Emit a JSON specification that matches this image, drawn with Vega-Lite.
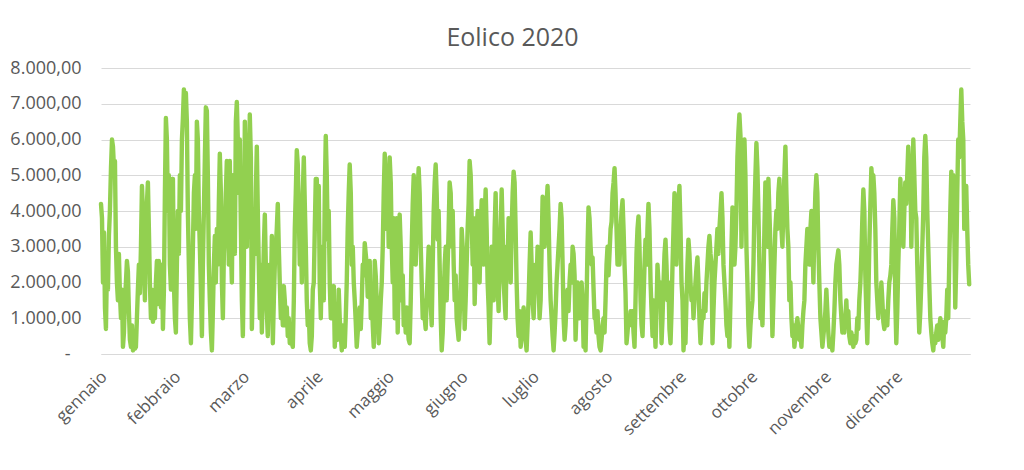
{
  "$schema": "https://vega.github.io/schema/vega-lite/v6.json",
  "autosize": "none",
  "width": 869,
  "height": 286,
  "padding": {"left": 101, "top": 68, "right": 54, "bottom": 116},
  "background": "white",
  "title": {
    "text": "Eolico 2020",
    "font": "Open Sans",
    "fontSize": 25,
    "fontWeight": "normal",
    "color": "#595959",
    "anchor": "middle",
    "baseline": "alphabetic",
    "dx": -23,
    "dy": 24,
    "offset": 12
  },
  "data": {
    "values": [
{"h":0,"v":4200},{"h":10,"v":3800},{"h":20,"v":2000},{"h":30,"v":3400},{"h":40,"v":1300},{"h":50,"v":700},{"h":60,"v":2500},{"h":70,"v":1800},{"h":80,"v":3300},{"h":90,"v":4000},
{"h":101,"v":5200},{"h":111,"v":6000},{"h":121,"v":5800},{"h":131,"v":5200},{"h":141,"v":5400},{"h":151,"v":3000},{"h":161,"v":2000},{"h":171,"v":1500},{"h":181,"v":2800},{"h":191,"v":1700},
{"h":202,"v":1000},{"h":212,"v":1800},{"h":222,"v":200},{"h":232,"v":600},{"h":242,"v":1500},{"h":252,"v":2000},{"h":262,"v":2600},{"h":272,"v":2300},{"h":282,"v":1200},{"h":292,"v":400},
{"h":303,"v":200},{"h":313,"v":800},{"h":323,"v":100},{"h":333,"v":300},{"h":343,"v":150},{"h":353,"v":200},{"h":363,"v":1000},{"h":373,"v":1800},{"h":383,"v":2500},{"h":393,"v":1700},
{"h":404,"v":3000},{"h":414,"v":4700},{"h":424,"v":4000},{"h":434,"v":2500},{"h":444,"v":1500},{"h":454,"v":3500},{"h":464,"v":4200},{"h":474,"v":4800},{"h":484,"v":3500},{"h":494,"v":2000},
{"h":505,"v":1000},{"h":515,"v":1800},{"h":525,"v":900},{"h":535,"v":1500},{"h":545,"v":1000},{"h":555,"v":2000},{"h":565,"v":2600},{"h":575,"v":1400},{"h":585,"v":2600},{"h":595,"v":2000},
{"h":606,"v":1300},{"h":616,"v":2500},{"h":626,"v":700},{"h":636,"v":1800},{"h":646,"v":4500},{"h":656,"v":6600},{"h":666,"v":6000},{"h":676,"v":4000},{"h":686,"v":5000},{"h":696,"v":2500},
{"h":707,"v":1800},{"h":717,"v":3500},{"h":727,"v":4900},{"h":737,"v":2000},{"h":747,"v":1000},{"h":757,"v":600},{"h":767,"v":2500},{"h":777,"v":4000},{"h":787,"v":2800},{"h":797,"v":5000},
{"h":808,"v":4000},{"h":818,"v":6000},{"h":828,"v":6600},{"h":838,"v":7400},{"h":848,"v":7000},{"h":858,"v":7300},{"h":868,"v":6500},{"h":878,"v":4000},{"h":888,"v":2500},{"h":898,"v":1000},
{"h":909,"v":300},{"h":919,"v":1500},{"h":929,"v":3000},{"h":939,"v":4500},{"h":949,"v":5000},{"h":959,"v":3500},{"h":969,"v":6500},{"h":979,"v":6000},{"h":989,"v":4000},{"h":999,"v":3000},
{"h":1010,"v":1800},{"h":1020,"v":500},{"h":1030,"v":2500},{"h":1040,"v":4000},{"h":1050,"v":5500},{"h":1060,"v":6900},{"h":1070,"v":6800},{"h":1080,"v":5000},{"h":1090,"v":2500},{"h":1100,"v":1500},
{"h":1111,"v":600},{"h":1121,"v":100},{"h":1131,"v":1200},{"h":1141,"v":2500},{"h":1151,"v":3300},{"h":1161,"v":2000},{"h":1171,"v":3500},{"h":1181,"v":2500},{"h":1191,"v":4200},{"h":1201,"v":5600},
{"h":1212,"v":4500},{"h":1222,"v":2000},{"h":1232,"v":1000},{"h":1242,"v":2800},{"h":1252,"v":3500},{"h":1262,"v":4500},{"h":1272,"v":5400},{"h":1282,"v":4000},{"h":1292,"v":2500},{"h":1302,"v":5400},
{"h":1313,"v":3000},{"h":1323,"v":2000},{"h":1333,"v":5000},{"h":1343,"v":3500},{"h":1353,"v":2800},{"h":1363,"v":6500},{"h":1373,"v":7050},{"h":1383,"v":6000},{"h":1393,"v":4500},{"h":1403,"v":6000},
{"h":1414,"v":3500},{"h":1424,"v":1500},{"h":1434,"v":500},{"h":1444,"v":2500},{"h":1454,"v":6500},{"h":1464,"v":5500},{"h":1474,"v":3000},{"h":1484,"v":5000},{"h":1494,"v":4000},{"h":1504,"v":6700},
{"h":1515,"v":5500},{"h":1525,"v":700},{"h":1535,"v":2000},{"h":1545,"v":3500},{"h":1555,"v":2800},{"h":1565,"v":4500},{"h":1575,"v":5800},{"h":1585,"v":4000},{"h":1595,"v":2500},{"h":1605,"v":1000},
{"h":1616,"v":2500},{"h":1626,"v":600},{"h":1636,"v":1800},{"h":1646,"v":3000},{"h":1656,"v":3900},{"h":1666,"v":2500},{"h":1676,"v":1200},{"h":1686,"v":500},{"h":1696,"v":1500},{"h":1706,"v":2500},
{"h":1717,"v":1700},{"h":1727,"v":3300},{"h":1737,"v":300},{"h":1747,"v":1500},{"h":1757,"v":2500},{"h":1767,"v":3000},{"h":1777,"v":3500},{"h":1787,"v":4200},{"h":1797,"v":3000},{"h":1807,"v":2000},
{"h":1818,"v":1000},{"h":1828,"v":1500},{"h":1838,"v":800},{"h":1848,"v":1900},{"h":1858,"v":1500},{"h":1868,"v":800},{"h":1878,"v":1300},{"h":1888,"v":500},{"h":1898,"v":1000},{"h":1908,"v":300},
{"h":1919,"v":600},{"h":1929,"v":300},{"h":1939,"v":200},{"h":1949,"v":1500},{"h":1959,"v":3500},{"h":1969,"v":4500},{"h":1979,"v":5700},{"h":1989,"v":5300},{"h":1999,"v":4000},{"h":2009,"v":2500},
{"h":2020,"v":3500},{"h":2030,"v":2000},{"h":2040,"v":4500},{"h":2050,"v":5500},{"h":2060,"v":4200},{"h":2070,"v":3000},{"h":2080,"v":1500},{"h":2090,"v":800},{"h":2100,"v":1200},{"h":2110,"v":300},
{"h":2121,"v":100},{"h":2131,"v":500},{"h":2141,"v":1800},{"h":2151,"v":2000},{"h":2161,"v":3500},{"h":2171,"v":4900},{"h":2181,"v":4900},{"h":2191,"v":3500},{"h":2201,"v":4700},{"h":2211,"v":2000},
{"h":2222,"v":1000},{"h":2232,"v":2500},{"h":2242,"v":3000},{"h":2252,"v":1500},{"h":2262,"v":4500},{"h":2272,"v":6100},{"h":2282,"v":5000},{"h":2292,"v":3200},{"h":2302,"v":4000},{"h":2312,"v":2000},
{"h":2323,"v":1000},{"h":2333,"v":1600},{"h":2343,"v":1000},{"h":2353,"v":1900},{"h":2363,"v":200},{"h":2373,"v":800},{"h":2383,"v":1200},{"h":2393,"v":400},{"h":2403,"v":1800},{"h":2413,"v":1000},
{"h":2424,"v":500},{"h":2434,"v":100},{"h":2444,"v":800},{"h":2454,"v":300},{"h":2464,"v":200},{"h":2474,"v":1000},{"h":2484,"v":2000},{"h":2494,"v":3500},{"h":2504,"v":4500},{"h":2514,"v":5300},
{"h":2525,"v":4500},{"h":2535,"v":2500},{"h":2545,"v":3000},{"h":2555,"v":2000},{"h":2565,"v":1500},{"h":2575,"v":900},{"h":2585,"v":200},{"h":2595,"v":600},{"h":2605,"v":1000},{"h":2615,"v":1300},
{"h":2626,"v":700},{"h":2636,"v":1500},{"h":2646,"v":2500},{"h":2656,"v":2200},{"h":2666,"v":3100},{"h":2676,"v":2800},{"h":2686,"v":2500},{"h":2696,"v":1600},{"h":2706,"v":2200},{"h":2716,"v":2600},
{"h":2727,"v":1000},{"h":2737,"v":1800},{"h":2747,"v":800},{"h":2757,"v":200},{"h":2767,"v":2600},{"h":2777,"v":2200},{"h":2787,"v":1500},{"h":2797,"v":1000},{"h":2807,"v":300},{"h":2817,"v":800},
{"h":2828,"v":1500},{"h":2838,"v":2000},{"h":2848,"v":3000},{"h":2858,"v":4500},{"h":2868,"v":5600},{"h":2878,"v":5000},{"h":2888,"v":3500},{"h":2898,"v":4800},{"h":2908,"v":3000},{"h":2918,"v":5500},
{"h":2929,"v":4800},{"h":2939,"v":3000},{"h":2949,"v":2000},{"h":2959,"v":3800},{"h":2969,"v":1000},{"h":2979,"v":2500},{"h":2989,"v":3800},{"h":2999,"v":600},{"h":3009,"v":2000},{"h":3019,"v":3900},
{"h":3030,"v":3000},{"h":3040,"v":1500},{"h":3050,"v":2200},{"h":3060,"v":800},{"h":3070,"v":1200},{"h":3080,"v":600},{"h":3090,"v":1300},{"h":3100,"v":800},{"h":3110,"v":400},{"h":3120,"v":300},
{"h":3131,"v":1500},{"h":3141,"v":3000},{"h":3151,"v":4200},{"h":3161,"v":5000},{"h":3171,"v":4000},{"h":3181,"v":2500},{"h":3191,"v":3500},{"h":3201,"v":4600},{"h":3211,"v":5200},{"h":3221,"v":4500},
{"h":3232,"v":3000},{"h":3242,"v":2000},{"h":3252,"v":1000},{"h":3262,"v":1500},{"h":3272,"v":1000},{"h":3282,"v":700},{"h":3292,"v":1500},{"h":3302,"v":2200},{"h":3312,"v":3000},{"h":3322,"v":2000},
{"h":3333,"v":1400},{"h":3343,"v":800},{"h":3353,"v":2500},{"h":3363,"v":4000},{"h":3373,"v":4800},{"h":3383,"v":5300},{"h":3393,"v":4500},{"h":3403,"v":3200},{"h":3413,"v":4000},{"h":3423,"v":2500},
{"h":3434,"v":1000},{"h":3444,"v":100},{"h":3454,"v":600},{"h":3464,"v":1500},{"h":3474,"v":2500},{"h":3484,"v":3000},{"h":3494,"v":1500},{"h":3504,"v":2500},{"h":3514,"v":3500},{"h":3524,"v":4800},
{"h":3535,"v":4500},{"h":3545,"v":3000},{"h":3555,"v":4000},{"h":3565,"v":2500},{"h":3575,"v":1500},{"h":3585,"v":2200},{"h":3595,"v":1000},{"h":3605,"v":700},{"h":3615,"v":400},{"h":3625,"v":1000},
{"h":3636,"v":2000},{"h":3646,"v":3500},{"h":3656,"v":3000},{"h":3666,"v":2000},{"h":3676,"v":700},{"h":3686,"v":1500},{"h":3696,"v":2500},{"h":3706,"v":3500},{"h":3716,"v":4200},{"h":3726,"v":5400},
{"h":3737,"v":5000},{"h":3747,"v":3800},{"h":3757,"v":2500},{"h":3767,"v":3800},{"h":3777,"v":1400},{"h":3787,"v":2500},{"h":3797,"v":3500},{"h":3807,"v":4000},{"h":3817,"v":3000},{"h":3827,"v":2000},
{"h":3838,"v":3500},{"h":3848,"v":4300},{"h":3858,"v":3500},{"h":3868,"v":2500},{"h":3878,"v":3800},{"h":3888,"v":4600},{"h":3898,"v":3500},{"h":3908,"v":2000},{"h":3918,"v":1300},{"h":3928,"v":300},
{"h":3939,"v":1500},{"h":3949,"v":3000},{"h":3959,"v":2500},{"h":3969,"v":1500},{"h":3979,"v":3500},{"h":3989,"v":4500},{"h":3999,"v":3000},{"h":4009,"v":2000},{"h":4019,"v":1200},{"h":4029,"v":2500},
{"h":4040,"v":3500},{"h":4050,"v":4600},{"h":4060,"v":3500},{"h":4070,"v":2000},{"h":4080,"v":1500},{"h":4090,"v":1000},{"h":4100,"v":3000},{"h":4110,"v":2500},{"h":4120,"v":3800},{"h":4130,"v":3000},
{"h":4141,"v":2000},{"h":4151,"v":3500},{"h":4161,"v":4500},{"h":4171,"v":5100},{"h":4181,"v":4800},{"h":4191,"v":3500},{"h":4201,"v":2000},{"h":4211,"v":1000},{"h":4221,"v":500},{"h":4231,"v":1200},
{"h":4242,"v":200},{"h":4252,"v":500},{"h":4262,"v":1000},{"h":4272,"v":1300},{"h":4282,"v":700},{"h":4292,"v":400},{"h":4302,"v":100},{"h":4312,"v":800},{"h":4322,"v":1500},{"h":4332,"v":2500},
{"h":4343,"v":3400},{"h":4353,"v":2500},{"h":4363,"v":1500},{"h":4373,"v":1000},{"h":4383,"v":1800},{"h":4393,"v":2500},{"h":4403,"v":2000},{"h":4413,"v":3000},{"h":4423,"v":2000},{"h":4433,"v":1000},
{"h":4444,"v":1500},{"h":4454,"v":3000},{"h":4464,"v":4400},{"h":4474,"v":4000},{"h":4484,"v":3000},{"h":4494,"v":3500},{"h":4504,"v":4200},{"h":4514,"v":4700},{"h":4524,"v":3800},{"h":4534,"v":2500},
{"h":4545,"v":1500},{"h":4555,"v":1000},{"h":4565,"v":500},{"h":4575,"v":100},{"h":4585,"v":600},{"h":4595,"v":1200},{"h":4605,"v":2000},{"h":4615,"v":2500},{"h":4625,"v":3000},{"h":4635,"v":3500},
{"h":4646,"v":4200},{"h":4656,"v":3800},{"h":4666,"v":2500},{"h":4676,"v":1000},{"h":4686,"v":400},{"h":4696,"v":800},{"h":4706,"v":1500},{"h":4716,"v":1800},{"h":4726,"v":1200},{"h":4736,"v":2000},
{"h":4747,"v":2500},{"h":4757,"v":2000},{"h":4767,"v":3000},{"h":4777,"v":2800},{"h":4787,"v":2200},{"h":4797,"v":400},{"h":4807,"v":1200},{"h":4817,"v":2000},{"h":4827,"v":1500},{"h":4837,"v":1000},
{"h":4848,"v":1800},{"h":4858,"v":2000},{"h":4868,"v":1500},{"h":4878,"v":200},{"h":4888,"v":500},{"h":4898,"v":100},{"h":4908,"v":1500},{"h":4918,"v":3000},{"h":4928,"v":4100},{"h":4938,"v":3800},
{"h":4949,"v":3000},{"h":4959,"v":2500},{"h":4969,"v":2700},{"h":4979,"v":1800},{"h":4989,"v":1000},{"h":4999,"v":1000},{"h":5009,"v":600},{"h":5019,"v":1200},{"h":5029,"v":500},{"h":5039,"v":200},
{"h":5050,"v":100},{"h":5060,"v":400},{"h":5070,"v":800},{"h":5080,"v":1000},{"h":5090,"v":600},{"h":5100,"v":1500},{"h":5110,"v":2500},{"h":5120,"v":3000},{"h":5130,"v":2200},{"h":5140,"v":2800},
{"h":5151,"v":3500},{"h":5161,"v":3700},{"h":5171,"v":4500},{"h":5181,"v":4800},{"h":5191,"v":5200},{"h":5201,"v":4500},{"h":5211,"v":3500},{"h":5221,"v":2500},{"h":5231,"v":3000},{"h":5241,"v":2500},
{"h":5252,"v":3500},{"h":5262,"v":4000},{"h":5272,"v":4300},{"h":5282,"v":3500},{"h":5292,"v":2500},{"h":5302,"v":1700},{"h":5312,"v":300},{"h":5322,"v":600},{"h":5332,"v":1000},{"h":5342,"v":800},
{"h":5353,"v":1200},{"h":5363,"v":1000},{"h":5373,"v":1200},{"h":5383,"v":600},{"h":5393,"v":200},{"h":5403,"v":1500},{"h":5413,"v":2800},{"h":5423,"v":3500},{"h":5433,"v":3850},{"h":5443,"v":3000},
{"h":5454,"v":1500},{"h":5464,"v":800},{"h":5474,"v":500},{"h":5484,"v":1500},{"h":5494,"v":2500},{"h":5504,"v":3200},{"h":5514,"v":2500},{"h":5524,"v":3500},{"h":5534,"v":4200},{"h":5544,"v":3500},
{"h":5555,"v":2000},{"h":5565,"v":1200},{"h":5575,"v":500},{"h":5585,"v":1500},{"h":5595,"v":1000},{"h":5605,"v":200},{"h":5615,"v":1200},{"h":5625,"v":2500},{"h":5635,"v":2000},{"h":5645,"v":1500},
{"h":5656,"v":2000},{"h":5666,"v":300},{"h":5676,"v":1000},{"h":5686,"v":2000},{"h":5696,"v":2800},{"h":5706,"v":3200},{"h":5716,"v":2500},{"h":5726,"v":1500},{"h":5736,"v":2000},{"h":5746,"v":700},
{"h":5757,"v":300},{"h":5767,"v":1200},{"h":5777,"v":2500},{"h":5787,"v":3500},{"h":5797,"v":4500},{"h":5807,"v":3800},{"h":5817,"v":2500},{"h":5827,"v":3500},{"h":5837,"v":4200},{"h":5847,"v":4700},
{"h":5858,"v":3500},{"h":5868,"v":2000},{"h":5878,"v":1500},{"h":5888,"v":100},{"h":5898,"v":600},{"h":5908,"v":300},{"h":5918,"v":1500},{"h":5928,"v":2500},{"h":5938,"v":3200},{"h":5948,"v":2800},
{"h":5959,"v":2000},{"h":5969,"v":1500},{"h":5979,"v":1800},{"h":5989,"v":1000},{"h":5999,"v":1500},{"h":6009,"v":2000},{"h":6019,"v":2400},{"h":6029,"v":2700},{"h":6039,"v":2000},{"h":6049,"v":1000},
{"h":6060,"v":300},{"h":6070,"v":800},{"h":6080,"v":1200},{"h":6090,"v":1000},{"h":6100,"v":1700},{"h":6110,"v":1200},{"h":6120,"v":2000},{"h":6130,"v":2500},{"h":6140,"v":3000},{"h":6150,"v":3300},
{"h":6161,"v":2800},{"h":6171,"v":2500},{"h":6181,"v":300},{"h":6191,"v":1200},{"h":6201,"v":2000},{"h":6211,"v":2500},{"h":6221,"v":3000},{"h":6231,"v":3500},{"h":6241,"v":2800},{"h":6251,"v":3500},
{"h":6262,"v":4000},{"h":6272,"v":4500},{"h":6282,"v":3800},{"h":6292,"v":2500},{"h":6302,"v":2000},{"h":6312,"v":1500},{"h":6322,"v":800},{"h":6332,"v":500},{"h":6342,"v":1000},{"h":6352,"v":200},
{"h":6363,"v":1500},{"h":6373,"v":3000},{"h":6383,"v":4100},{"h":6393,"v":3500},{"h":6403,"v":2500},{"h":6413,"v":3000},{"h":6423,"v":4000},{"h":6433,"v":5500},{"h":6443,"v":6200},{"h":6453,"v":6700},
{"h":6464,"v":6100},{"h":6474,"v":3000},{"h":6484,"v":4500},{"h":6494,"v":5500},{"h":6504,"v":6000},{"h":6514,"v":5000},{"h":6524,"v":3000},{"h":6534,"v":2000},{"h":6544,"v":800},{"h":6554,"v":200},
{"h":6565,"v":800},{"h":6575,"v":1200},{"h":6585,"v":1500},{"h":6595,"v":2500},{"h":6605,"v":4000},{"h":6615,"v":5000},{"h":6625,"v":5900},{"h":6635,"v":5200},{"h":6645,"v":4000},{"h":6655,"v":2500},
{"h":6666,"v":1000},{"h":6676,"v":1500},{"h":6686,"v":800},{"h":6696,"v":2000},{"h":6706,"v":3500},{"h":6716,"v":4800},{"h":6726,"v":4000},{"h":6736,"v":3000},{"h":6746,"v":4900},{"h":6756,"v":4000},
{"h":6767,"v":3000},{"h":6777,"v":2000},{"h":6787,"v":500},{"h":6797,"v":1500},{"h":6807,"v":2500},{"h":6817,"v":3500},{"h":6827,"v":4000},{"h":6837,"v":3500},{"h":6847,"v":4500},{"h":6857,"v":4900},
{"h":6868,"v":4000},{"h":6878,"v":3500},{"h":6888,"v":3000},{"h":6898,"v":4200},{"h":6908,"v":5000},{"h":6918,"v":5800},{"h":6928,"v":4500},{"h":6938,"v":3500},{"h":6948,"v":3000},{"h":6958,"v":1500},
{"h":6969,"v":2000},{"h":6979,"v":1000},{"h":6989,"v":500},{"h":6999,"v":800},{"h":7009,"v":200},{"h":7019,"v":500},{"h":7029,"v":800},{"h":7039,"v":1000},{"h":7049,"v":700},{"h":7059,"v":400},
{"h":7070,"v":600},{"h":7080,"v":200},{"h":7090,"v":800},{"h":7100,"v":1200},{"h":7110,"v":1500},{"h":7120,"v":2500},{"h":7130,"v":3000},{"h":7140,"v":3500},{"h":7150,"v":3000},{"h":7160,"v":2500},
{"h":7171,"v":3500},{"h":7181,"v":4000},{"h":7191,"v":3200},{"h":7201,"v":2000},{"h":7211,"v":3500},{"h":7221,"v":4500},{"h":7231,"v":5000},{"h":7241,"v":4500},{"h":7251,"v":3000},{"h":7261,"v":2000},
{"h":7272,"v":1000},{"h":7282,"v":600},{"h":7292,"v":200},{"h":7302,"v":500},{"h":7312,"v":800},{"h":7322,"v":1200},{"h":7332,"v":1800},{"h":7342,"v":1200},{"h":7352,"v":600},{"h":7362,"v":200},
{"h":7373,"v":400},{"h":7383,"v":300},{"h":7393,"v":100},{"h":7403,"v":600},{"h":7413,"v":1200},{"h":7423,"v":2000},{"h":7433,"v":2500},{"h":7443,"v":2700},{"h":7453,"v":2900},{"h":7463,"v":2500},
{"h":7474,"v":1500},{"h":7484,"v":1000},{"h":7494,"v":600},{"h":7504,"v":900},{"h":7514,"v":600},{"h":7524,"v":1000},{"h":7534,"v":1500},{"h":7544,"v":800},{"h":7554,"v":1200},{"h":7564,"v":500},
{"h":7575,"v":300},{"h":7585,"v":600},{"h":7595,"v":400},{"h":7605,"v":200},{"h":7615,"v":500},{"h":7625,"v":300},{"h":7635,"v":400},{"h":7645,"v":1000},{"h":7655,"v":700},{"h":7665,"v":1500},
{"h":7676,"v":2000},{"h":7686,"v":2800},{"h":7696,"v":3800},{"h":7706,"v":4600},{"h":7716,"v":4000},{"h":7726,"v":2200},{"h":7736,"v":1200},{"h":7746,"v":300},{"h":7756,"v":1500},{"h":7766,"v":3000},
{"h":7777,"v":4200},{"h":7787,"v":5200},{"h":7797,"v":4800},{"h":7807,"v":5000},{"h":7817,"v":4500},{"h":7827,"v":3500},{"h":7837,"v":2000},{"h":7847,"v":1500},{"h":7857,"v":1000},{"h":7867,"v":1600},
{"h":7878,"v":1200},{"h":7888,"v":2000},{"h":7898,"v":1500},{"h":7908,"v":900},{"h":7918,"v":700},{"h":7928,"v":1000},{"h":7938,"v":1200},{"h":7948,"v":800},{"h":7958,"v":1500},{"h":7968,"v":2000},
{"h":7979,"v":2200},{"h":7989,"v":2500},{"h":7999,"v":3500},{"h":8009,"v":4300},{"h":8019,"v":3800},{"h":8029,"v":1500},{"h":8039,"v":300},{"h":8049,"v":1200},{"h":8059,"v":2500},{"h":8069,"v":3500},
{"h":8080,"v":4900},{"h":8090,"v":4200},{"h":8100,"v":3500},{"h":8110,"v":3000},{"h":8120,"v":4000},{"h":8130,"v":4800},{"h":8140,"v":4200},{"h":8150,"v":5000},{"h":8160,"v":5800},{"h":8170,"v":5200},
{"h":8181,"v":5500},{"h":8191,"v":3000},{"h":8201,"v":4500},{"h":8211,"v":6000},{"h":8221,"v":5000},{"h":8231,"v":4000},{"h":8241,"v":3800},{"h":8251,"v":2500},{"h":8261,"v":1500},{"h":8271,"v":600},
{"h":8282,"v":1200},{"h":8292,"v":2000},{"h":8302,"v":3000},{"h":8312,"v":4000},{"h":8322,"v":5500},{"h":8332,"v":6100},{"h":8342,"v":5500},{"h":8352,"v":4000},{"h":8362,"v":3000},{"h":8372,"v":2000},
{"h":8383,"v":1000},{"h":8393,"v":600},{"h":8403,"v":300},{"h":8413,"v":100},{"h":8423,"v":500},{"h":8433,"v":300},{"h":8443,"v":600},{"h":8453,"v":800},{"h":8463,"v":400},{"h":8473,"v":700},
{"h":8484,"v":1000},{"h":8494,"v":800},{"h":8504,"v":500},{"h":8514,"v":200},{"h":8524,"v":900},{"h":8534,"v":600},{"h":8544,"v":1000},{"h":8554,"v":1800},{"h":8564,"v":1000},{"h":8574,"v":2500},
{"h":8585,"v":4000},{"h":8595,"v":5100},{"h":8605,"v":4500},{"h":8615,"v":5000},{"h":8625,"v":3500},{"h":8635,"v":1300},{"h":8645,"v":2500},{"h":8655,"v":4500},{"h":8665,"v":6000},{"h":8675,"v":5500},
{"h":8686,"v":6500},{"h":8696,"v":7400},{"h":8706,"v":6500},{"h":8716,"v":6000},{"h":8726,"v":3500},{"h":8736,"v":4000},{"h":8746,"v":4700},{"h":8756,"v":3500},{"h":8766,"v":2500},{"h":8776,"v":1950}
    ]
  },
  "mark": {
    "type": "line",
    "color": "#92D050",
    "strokeWidth": 4.4,
    "strokeCap": "round",
    "strokeJoin": "round"
  },
  "encoding": {
    "x": {
      "field": "h",
      "type": "quantitative",
      "scale": {"domain": [0, 8784], "nice": false, "zero": false},
      "axis": {
        "title": null,
        "values": [0, 744, 1440, 2184, 2904, 3648, 4368, 5112, 5856, 6576, 7320, 8040],
        "labelExpr": "['gennaio','febbraio','marzo','aprile','maggio','giugno','luglio','agosto','settembre','ottobre','novembre','dicembre'][indexof([0,744,1440,2184,2904,3648,4368,5112,5856,6576,7320,8040], datum.value)]",
        "labelAngle": -45,
        "labelAlign": "right",
        "labelBaseline": "middle",
        "labelPadding": 20,
        "labelOffset": 3,
        "labelFont": "Open Sans",
        "labelFontSize": 17,
        "labelColor": "#595959",
        "labelOverlap": false,
        "labelFlush": false,
        "ticks": false,
        "grid": false,
        "domain": true,
        "domainColor": "#d9d9d9",
        "domainWidth": 1
      }
    },
    "y": {
      "field": "v",
      "type": "quantitative",
      "scale": {"domain": [0, 8000], "nice": false},
      "axis": {
        "title": null,
        "values": [0, 1000, 2000, 3000, 4000, 5000, 6000, 7000, 8000],
        "labelExpr": "datum.value == 0 ? '-' : format(datum.value / 1000, '.0f') + '.000,00'",
        "labelFont": "Open Sans",
        "labelFontSize": 18,
        "labelColor": "#595959",
        "labelPadding": {"condition": {"test": "datum.value == 0", "value": 31}, "value": 20},
        "ticks": false,
        "domain": false,
        "grid": true,
        "gridColor": "#d9d9d9",
        "gridWidth": 1
      }
    }
  },
  "config": {
    "view": {"stroke": null}
  }
}
